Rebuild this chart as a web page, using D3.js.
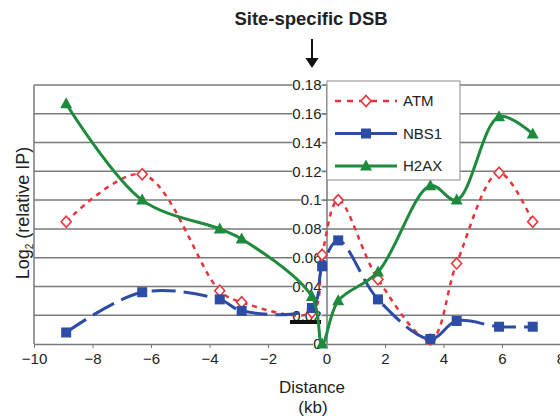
<!DOCTYPE html>
<html>
<head>
<meta charset="utf-8">
<script src="https://cdn.jsdelivr.net/npm/d3@7"></script>
<style>
  body { margin: 0; background: #fff; }
  svg text { font-family: "Liberation Sans", Arial, sans-serif; fill: #222; }
</style>
</head>
<body>
<div id="chart"></div>
<script>
// distance from the break (kb), shared by all three series
var distances = [-8.9, -6.3, -3.65, -2.9, -0.5, -0.15, 0.4, 1.76, 3.55, 4.45, 5.9, 7.05];
var atmValues = [0.085, 0.118, 0.037, 0.029, 0.022, 0.062, 0.1, 0.045, 0.003, 0.056, 0.119, 0.085];
var nbs1Values = [0.008, 0.036, 0.031, 0.023, 0.025, 0.054, 0.072, 0.031, 0.0035, 0.016, 0.012, 0.012];
var h2axValues = [0.167, 0.1, 0.08, 0.073, 0.033, 0, 0.03, 0.05, 0.11, 0.1, 0.158, 0.146];
var seriesNames = ["ATM", "NBS1", "H2AX"];
var xTicks = [-10, -8, -6, -4, -2, 0, 2, 4, 6, 8];
var yTicks = [0, 0.02, 0.04, 0.06, 0.08, 0.1, 0.12, 0.14, 0.16, 0.18];

var svgWidth = 560;
var svgHeight = 420;

var svg = d3.select("#chart")
  .append("svg")
  .attr("width", svgWidth)
  .attr("height", svgHeight);

var x = d3.scaleLinear().domain([-10, 8]).range([34, 560.5]);
var y = d3.scaleLinear().domain([0, 0.18]).range([344, 85]);

var styles = {
  ATM: { color: "#e5343c", dash: "5,5", width: 2.5, marker: "diamond" },
  NBS1: { color: "#2c4ca6", dash: "24,8", width: 3, marker: "square" },
  H2AX: { color: "#1e8a3c", dash: null, width: 3, marker: "triangle" }
};
var valuesByName = { ATM: atmValues, NBS1: nbs1Values, H2AX: h2axValues };

// gridlines
svg.append("g")
  .selectAll("line")
  .data(yTicks.filter(d => d > 0))
  .enter()
  .append("line")
  .attr("x1", x(-10))
  .attr("x2", svgWidth)
  .attr("y1", d => y(d))
  .attr("y2", d => y(d))
  .attr("stroke", "#7a7a7a")
  .attr("stroke-width", 1.5);

// left border
svg.append("line")
  .attr("x1", x(-10)).attr("x2", x(-10))
  .attr("y1", y(0.18)).attr("y2", y(0))
  .attr("stroke", "#7a7a7a")
  .attr("stroke-width", 1.5);

// x axis
var xAxis = svg.append("g")
  .attr("transform", `translate(0, ${y(0)})`)
  .call(d3.axisBottom(x).tickValues(xTicks).tickSize(4).tickSizeOuter(0)
    .tickFormat(d => d < 0 ? "\u2212" + Math.abs(d) : String(d)));
xAxis.select(".domain").attr("stroke", "#7a7a7a").attr("stroke-width", 1.5);
xAxis.selectAll(".tick line").attr("stroke", "#7a7a7a");
xAxis.selectAll("text")
  .attr("y", 9)
  .attr("dy", "0.71em")
  .style("font-size", "15px");

// y axis at distance 0
var yAxis = svg.append("g")
  .attr("transform", `translate(${x(0)}, 0)`)
  .call(d3.axisLeft(y).tickValues(yTicks).tickSize(4).tickSizeOuter(0)
    .tickFormat(d => d === 0 ? "0" : String(+d.toFixed(2))));
yAxis.select(".domain").attr("stroke", "#7a7a7a").attr("stroke-width", 1.5);
yAxis.selectAll(".tick line").attr("stroke", "#7a7a7a");
yAxis.selectAll("text")
  .attr("x", -5)
  .style("font-size", "15px");
yAxis.selectAll(".tick").each(function() {
  var t = d3.select(this).select("text");
  var box = t.node().getBBox();
  d3.select(this).insert("rect", "text")
    .attr("x", box.x)
    .attr("y", box.y + 2)
    .attr("width", box.width)
    .attr("height", box.height - 4)
    .attr("fill", "#fff");
});

// small black bar under 0.02
svg.append("rect")
  .attr("x", 290).attr("y", 320)
  .attr("width", 31).attr("height", 4)
  .attr("fill", "#111");

function drawMarker(g, kind, cx, cy, color) {
  if (kind === "diamond") {
    g.append("path")
      .attr("d", `M${cx},${cy - 5.5}L${cx + 5},${cy}L${cx},${cy + 5.5}L${cx - 5},${cy}Z`)
      .attr("fill", "#fff")
      .attr("stroke", color)
      .attr("stroke-width", 1.6);
  } else if (kind === "square") {
    g.append("rect")
      .attr("x", cx - 5).attr("y", cy - 5)
      .attr("width", 10).attr("height", 10)
      .attr("fill", color);
  } else {
    g.append("path")
      .attr("d", `M${cx},${cy - 6.5}L${cx + 6},${cy + 4.5}L${cx - 6},${cy + 4.5}Z`)
      .attr("fill", color);
  }
}

var line = d3.line()
  .x(d => x(d[0]))
  .y(d => y(d[1]))
  .curve(d3.curveCatmullRom.alpha(0.5));

seriesNames.forEach(function(name) {
  var s = styles[name];
  var pts = distances.map((d, i) => [d, valuesByName[name][i]]);
  var g = svg.append("g");
  g.append("path")
    .attr("d", line(pts))
    .attr("fill", "none")
    .attr("stroke", s.color)
    .attr("stroke-width", s.width)
    .attr("stroke-dasharray", s.dash);
  pts.forEach(p => drawMarker(g, s.marker, x(p[0]), y(p[1]), s.color));
});

// legend
var legend = svg.append("g");
legend.append("rect")
  .attr("x", 327).attr("y", 81)
  .attr("width", 133).attr("height", 99)
  .attr("fill", "#fff")
  .attr("stroke", "#8a8a8a")
  .attr("stroke-width", 1);

seriesNames.forEach(function(name, i) {
  var s = styles[name];
  var ly = 101 + i * 32.5;
  legend.append("line")
    .attr("x1", 335).attr("x2", 397)
    .attr("y1", ly).attr("y2", ly)
    .attr("stroke", s.color)
    .attr("stroke-width", s.width)
    .attr("stroke-dasharray", name === "ATM" ? "6,6" : null);
  drawMarker(legend, s.marker, 366, ly, s.color);
  legend.append("text")
    .attr("x", 403)
    .attr("y", ly + 5)
    .style("font-size", "15px")
    .text(name);
});

// title and arrow
svg.append("text")
  .attr("x", 311)
  .attr("y", 25)
  .attr("text-anchor", "middle")
  .style("font-size", "18.5px")
  .style("font-weight", "bold")
  .text("Site-specific DSB");

svg.append("line")
  .attr("x1", 312).attr("x2", 312)
  .attr("y1", 39).attr("y2", 60)
  .attr("stroke", "#111")
  .attr("stroke-width", 2);
svg.append("path")
  .attr("d", "M305.5,58L318.5,58L312,68Z")
  .attr("fill", "#111");

// axis titles
svg.append("text")
  .attr("x", 312)
  .attr("y", 393)
  .attr("text-anchor", "middle")
  .style("font-size", "17px")
  .text("Distance");
svg.append("text")
  .attr("x", 313)
  .attr("y", 413)
  .attr("text-anchor", "middle")
  .style("font-size", "17px")
  .text("(kb)");

var yLabel = svg.append("text")
  .attr("transform", "translate(29, 213) rotate(-90)")
  .attr("text-anchor", "middle")
  .style("font-size", "18px");
yLabel.append("tspan").text("Log");
yLabel.append("tspan").attr("dy", 4).style("font-size", "10px").text("2");
yLabel.append("tspan").attr("dy", -4).text(" (relative IP)");
</script>
</body>
</html>
